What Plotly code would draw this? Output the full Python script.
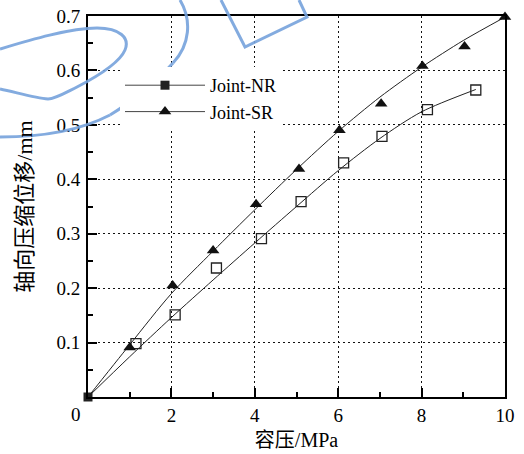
import plotly.graph_objects as go

# ---- data ----
nr_x = [1.15, 2.09, 3.08, 4.16, 5.11, 6.13, 7.05, 8.14, 9.30]
nr_y = [0.098, 0.151, 0.237, 0.291, 0.359, 0.430, 0.479, 0.528, 0.564]
sr_x = [1.00, 2.03, 3.00, 4.03, 5.06, 6.03, 7.03, 8.02, 9.03, 10.0]
sr_y = [0.091, 0.205, 0.269, 0.354, 0.419, 0.490, 0.539, 0.608, 0.644, 0.698]
origin_x = [0.0]
origin_y = [0.0]

# fitted curves
nr_fit_x = [0, 1, 2, 3, 4, 5, 6, 7, 8, 9.3]
nr_fit_y = [0, 0.074, 0.146, 0.215, 0.283, 0.350, 0.416, 0.475, 0.524, 0.565]
sr_fit_x = [0, 1, 2, 3, 4, 5, 6, 7, 8, 9, 10]
sr_fit_y = [0, 0.096, 0.190, 0.268, 0.344, 0.418, 0.488, 0.551, 0.606, 0.655, 0.698]

x_ticks = [0, 2, 4, 6, 8, 10]
x_ticklabels = ["", "2", "4", "6", "8", "10"]
y_ticks = [0, 0.1, 0.2, 0.3, 0.4, 0.5, 0.6, 0.7]
y_ticklabels = ["", "0.1", "0.2", "0.3", "0.4", "0.5", "0.6", "0.7"]

x_title = "容压/MPa"
y_title = "轴向压缩位移/mm"
names = ["Joint-NR", "Joint-SR"]

FONT = "Liberation Serif, Noto Sans CJK SC"
TICK_SIZE = 19
LEG_SIZE = 18
TITLE_SIZE = 20
W, H = 524, 454
L, R, T, B = 88, 19, 16, 57

fig = go.Figure()
line_style = dict(color="#222222", width=1, shape="spline", smoothing=0.8)

fig.add_trace(go.Scatter(x=nr_fit_x, y=nr_fit_y, mode="lines", line=line_style,
                         showlegend=False, hoverinfo="skip"))
fig.add_trace(go.Scatter(x=sr_fit_x, y=sr_fit_y, mode="lines", line=line_style,
                         showlegend=False, hoverinfo="skip"))
fig.add_trace(go.Scatter(x=nr_x, y=nr_y, mode="markers", showlegend=False,
                         marker=dict(symbol="square-open", size=10, color="#222222",
                                     line=dict(width=1.3, color="#222222")),
                         cliponaxis=False))
fig.add_trace(go.Scatter(x=sr_x, y=sr_y, mode="markers", name=names[1],
                         marker=dict(symbol="triangle-up", size=11, color="#111111"),
                         cliponaxis=False, showlegend=False))
# legend entries
fig.add_trace(go.Scatter(x=origin_x, y=origin_y, mode="lines+markers", name=names[0],
                         marker=dict(symbol="square", size=9, color="#222222"),
                         line=dict(color="#444444", width=1), cliponaxis=False))
fig.add_trace(go.Scatter(x=[None], y=[None], mode="lines+markers", name=names[1],
                         marker=dict(symbol="triangle-up", size=11, color="#111111"),
                         line=dict(color="#444444", width=1)))


def to_paper(px, py):
    return (px - L) / (W - L - R), 1 - (py - T) / (H - T - B)


def path(start, segs):
    X, Y = to_paper(*start)
    s = f"M{X:.4f},{Y:.4f}"
    for c, pts in segs:
        s += " " + c + " ".join(f"{to_paper(px, py)[0]:.4f},{to_paper(px, py)[1]:.4f}"
                                for (px, py) in pts)
    return s


blue = "rgba(118,162,220,0.9)"
stroke_paths = [
    # loop at upper left
    path((0, 49), [("C", [(30, 40), (70, 28), (97, 28)]),
                   ("C", [(120, 28), (130, 38), (125, 50)]),
                   ("C", [(120, 62), (100, 75), (77, 87)]),
                   ("C", [(65, 93), (55, 99), (48, 99)]),
                   ("C", [(35, 98), (15, 92), (0, 89)])]),
    # long arc, split in pieces
    path((180, 0), [("C", [(192, 20), (190, 45), (173, 63)])]),
    path((173, 63), [("C", [(155, 83), (130, 103), (110, 115)])]),
    path((110, 115), [("C", [(85, 128), (50, 137), (0, 137)])]),
    # bent box near the top
    path((221, 0), [("L", [(245, 47)]), ("L", [(307, 17)]), ("L", [(299, 0)])]),
]
shapes = [dict(type="path", path=p, xref="paper", yref="paper", layer="above",
               line=dict(color=blue, width=3)) for p in stroke_paths]

axis_common = dict(showline=True, linecolor="black", linewidth=2, mirror=True,
                   ticks="inside", tickcolor="black", tickwidth=1.5, ticklen=9,
                   showgrid=True, gridcolor="#111111", gridwidth=1, griddash="2px,3px",
                   zeroline=False, automargin=False,
                   tickfont=dict(family=FONT, size=TICK_SIZE, color="black"),
                   title_font=dict(family=FONT, size=TITLE_SIZE, color="black"))

fig.update_xaxes(range=[0, 10], tickvals=x_ticks, ticktext=x_ticklabels,
                 minor=dict(dtick=1, ticks="inside", ticklen=5, tickcolor="black", showgrid=False),
                 title_text=x_title, title_standoff=8, **axis_common)
fig.update_yaxes(range=[0, 0.7], tickvals=y_ticks, ticktext=y_ticklabels,
                 minor=dict(dtick=0.05, ticks="inside", ticklen=5, tickcolor="black", showgrid=False),
                 ticklabelstandoff=2,
                 title_text=y_title, title_standoff=18, **axis_common)
fig.update_yaxes(title_font=dict(family=FONT, size=22, color="black"))

fig.add_annotation(x=0, y=0, xref="x", yref="y", text="0", showarrow=False,
                   xshift=-12, yshift=-17, font=dict(family=FONT, size=TICK_SIZE, color="black"))

fig.update_layout(
    width=W, height=H, margin=dict(l=L, r=R, t=T, b=B, autoexpand=False),
    paper_bgcolor="white", plot_bgcolor="white",
    shapes=shapes,
    legend=dict(x=to_paper(120, 0)[0], y=to_paper(0, 67)[1], xanchor="left", yanchor="top",
                bgcolor="white", borderwidth=0, itemwidth=80,
                font=dict(family=FONT, size=LEG_SIZE, color="black"),
                tracegroupgap=0),
)

fig.write_html("out.html", post_script="document.body.style.margin='0';",
               config={"displayModeBar": False})
